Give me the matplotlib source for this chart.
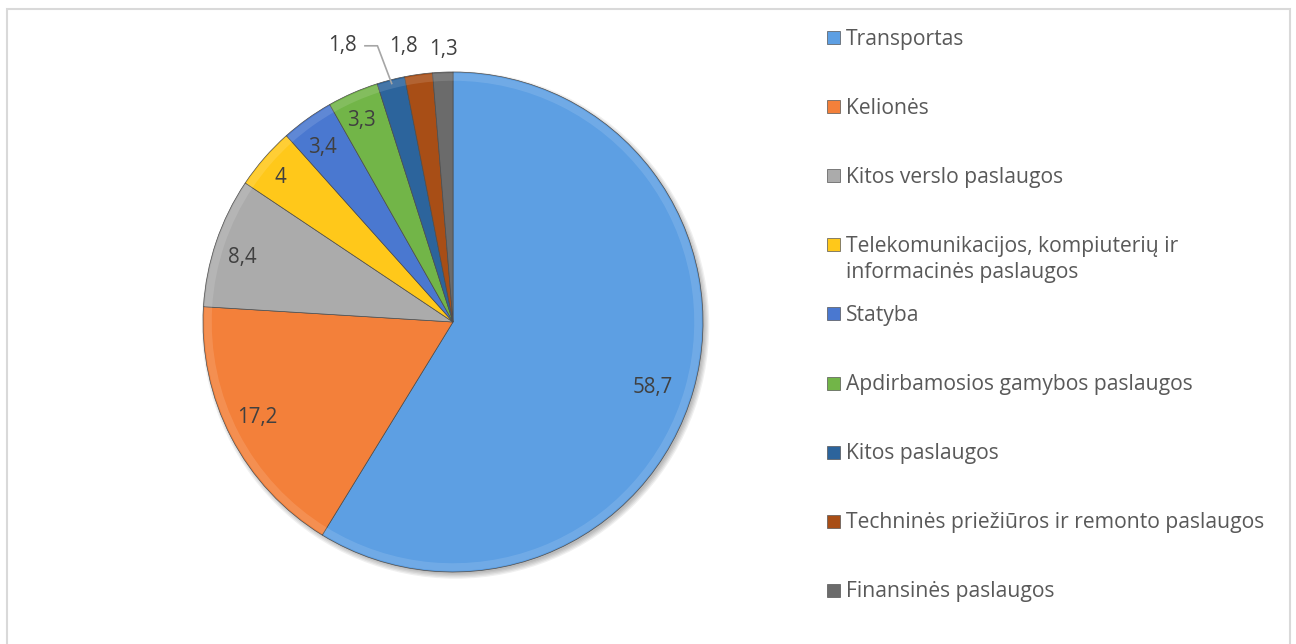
import matplotlib.pyplot as plt
import numpy as np
from matplotlib.patches import Rectangle, Circle, Wedge

kategorijos = ['Transportas', 'Kelionės', 'Kitos verslo paslaugos',
               'Telekomunikacijos, kompiuterių ir\ninformacinės paslaugos',
               'Statyba', 'Apdirbamosios gamybos paslaugos', 'Kitos paslaugos',
               'Techninės priežiūros ir remonto paslaugos', 'Finansinės paslaugos']
reiksmes = [58.7, 17.2, 8.4, 4, 3.4, 3.3, 1.8, 1.8, 1.3]
etiketes = ['58,7', '17,2', '8,4', '4', '3,4', '3,3', '1,8', '1,8', '1,3']
spalvos = ['#5d9fe3', '#f3803a', '#ababab', '#ffc81a', '#4a78d0',
           '#72b548', '#2c649c', '#a84e16', '#6b6b6b']

# etikečių vieta: atstumas nuo centro ir kampo poslinkis nuo pleišto vidurio
etik_r = [0.84, 0.87, 0.88, 0.90, 0.87, 0.885, 1.19, 1.12, 1.09]
etik_kampas = [-2.5, -1.3, 1.6, 1.0, 1.1, 0.8, 7.4, 2.2, -0.4]

plt.rcParams['font.family'] = ['Open Sans', 'DejaVu Sans']

W, H = 1296, 644
fig = plt.figure(figsize=(W / 100, H / 100), dpi=100)
fig.patches.append(Rectangle((7 / W, -0.01), 1283 / W, (H - 9) / H + 0.01,
                             transform=fig.transFigure, fill=False,
                             edgecolor='#d9d9d9', linewidth=1.5))

ax = fig.add_axes([203 / W, 72 / H, 500 / W, 500 / H])

# šešėlis
for k in range(5):
    ax.add_patch(Circle((0.01, -0.012), 0.995 + 0.005 * k, color='#000000',
                        alpha=0.06, lw=0, zorder=0, clip_on=False))

wedges, _ = ax.pie(reiksmes, colors=spalvos, startangle=90, counterclock=False,
                   radius=1, wedgeprops=dict(edgecolor='#4d4d4d', linewidth=0.5))
for w in wedges:
    w.set_zorder(2)
    w.set_clip_on(False)
    # lengvas reljefas: šviesesnis kraštas
    ax.add_patch(Wedge((0, 0), 0.995, w.theta1, w.theta2, width=0.03,
                       facecolor='white', alpha=0.12, lw=0, zorder=3,
                       clip_on=False))

for i, w in enumerate(wedges):
    mid = (w.theta1 + w.theta2) / 2 + etik_kampas[i]
    x = etik_r[i] * np.cos(np.radians(mid))
    y = etik_r[i] * np.sin(np.radians(mid))
    ax.text(x, y, etiketes[i], ha='center', va='center', fontsize=14.8,
            color='#404040', zorder=5, clip_on=False)
    if i == 6:
        sm = np.radians((w.theta1 + w.theta2) / 2)
        ax.plot([x + 0.09, x + 0.14, 0.985 * np.cos(sm)],
                [y, y, 0.985 * np.sin(sm)], color='#a6a6a6', lw=1.2,
                zorder=4, clip_on=False)

ax.set_xlim(-1, 1)
ax.set_ylim(-1, 1)
ax.axis('off')

# legenda
for i, (pav, c) in enumerate(zip(kategorijos, spalvos)):
    yc = 37 + 69.1 * i
    fig.patches.append(Rectangle((827 / W, 1 - (yc + 7) / H), 13 / W, 13 / H,
                                 transform=fig.transFigure, facecolor=c,
                                 edgecolor='#555555', linewidth=0.5))
    fig.text(846 / W, 1 - (yc - 8.5) / H, pav, ha='left', va='top',
             fontsize=15.2, color='#595959', linespacing=1.3)

plt.savefig('out.png', dpi=100)
